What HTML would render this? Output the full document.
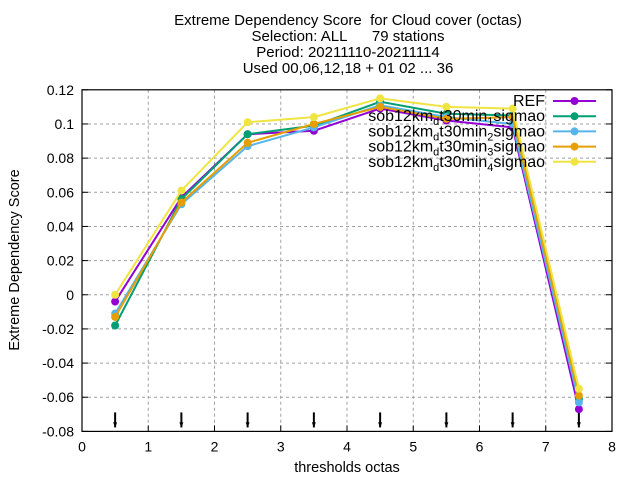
<!DOCTYPE html>
<html><head><meta charset="utf-8"><style>
body{margin:0;background:#fff}
svg text{font-family:"Liberation Sans",sans-serif;white-space:pre;}
</style></head><body>
<svg id="chart" width="640" height="480" xmlns="http://www.w3.org/2000/svg">
<g font-size="15" text-anchor="middle">
<text x="348" y="25" xml:space="preserve">Extreme Dependency Score  for Cloud cover (octas)</text>
<text x="348" y="41" xml:space="preserve">Selection: ALL      79 stations</text>
<text x="348" y="57">Period: 20211110-20211114</text>
<text x="348" y="73">Used 00,06,12,18 + 01 02 ... 36</text>
</g>
<g id="grid"></g>
<g id="axes"></g>
<g id="series"></g>
<g id="legend"></g>
<text x="347" y="472" font-size="14.5" text-anchor="middle">thresholds octas</text>
<text transform="translate(19,260) rotate(-90)" font-size="14.5" text-anchor="middle">Extreme Dependency Score</text>
</svg>
<script>
const xTicks=[0,1,2,3,4,5,6,7,8];
const yTicks=[-0.08,-0.06,-0.04,-0.02,0,0.02,0.04,0.06,0.08,0.1,0.12];
const yTickLabels=["-0.08","-0.06","-0.04","-0.02","0","0.02","0.04","0.06","0.08","0.1","0.12"];
const thresholds=[0.5,1.5,2.5,3.5,4.5,5.5,6.5,7.5];
const seriesNames=["REF","sob12km_d_t30min_1_sigmao","sob12km_d_t30min_2_sigmao","sob12km_d_t30min_3_sigmao","sob12km_d_t30min_4_sigmao"];
const refVals=[-0.004,0.057,0.094,0.096,0.109,0.102,0.098,-0.067];
const s1Vals=[-0.018,0.056,0.094,0.099,0.113,0.106,0.105,-0.061];
const s2Vals=[-0.011,0.053,0.087,0.098,0.111,0.104,0.100,-0.063];
const s3Vals=[-0.013,0.054,0.089,0.100,0.110,0.103,0.104,-0.059];
const s4Vals=[0.000,0.061,0.101,0.104,0.115,0.110,0.109,-0.055];
const colors=["#9400d3","#009e73","#56b4e9","#e69f00","#f0e442"];
const allVals=[refVals,s1Vals,s2Vals,s3Vals,s4Vals];
const L=82,R=612,T=89.8,B=431.4;
const xs=v=>L+(v-0)/(8-0)*(R-L);
const ys=v=>B-(v+0.08)/0.2*(B-T);
const NS="http://www.w3.org/2000/svg";
function mk(tag,attrs,parent){const e=document.createElementNS(NS,tag);for(const k in attrs)e.setAttribute(k,attrs[k]);parent.appendChild(e);return e;}
const grid=document.getElementById('grid'),axes=document.getElementById('axes'),series=document.getElementById('series'),legend=document.getElementById('legend');
xTicks.forEach((t,i)=>{
 if(i>0&&i<xTicks.length-1){const g=mk('line',{x1:xs(t),x2:xs(t),y1:T,y2:B,stroke:'#a0a0a0','stroke-dasharray':'3,3'},grid);
 
 }
 const tk=mk('line',{x1:xs(t),x2:xs(t),y1:B,y2:B-6,stroke:'#000'},axes);
 
 
 const tx=mk('text',{x:xs(t),y:B+20,'font-size':'14','text-anchor':'middle'},axes);tx.textContent=t;
 
 
});
yTicks.forEach((t,i)=>{
 if(i>0&&i<yTicks.length-1){const g=mk('line',{x1:L,x2:R,y1:ys(t),y2:ys(t),stroke:'#a0a0a0','stroke-dasharray':'3,3'},grid);
 
 }
 const tk=mk('line',{x1:L,x2:L+6,y1:ys(t),y2:ys(t),stroke:'#000'},axes);
 
 
 const tk2=mk('line',{x1:R,x2:R-6,y1:ys(t),y2:ys(t),stroke:'#000'},axes);
 
 
 const tx=mk('text',{x:L-8,y:ys(t)+5,'font-size':'14','text-anchor':'end'},axes);tx.textContent=yTickLabels[i];
 
 
});
const fr=mk('rect',{x:L,y:T,width:R-L,height:B-T,fill:'none',stroke:'#000','stroke-width':'1.2'},axes);


thresholds.forEach(t=>{
 const a=mk('line',{x1:xs(t),x2:xs(t),y1:B-19,y2:B-4,stroke:'#000','stroke-width':'2'},axes);
 
 
 const h=mk('path',{d:`M${xs(t)-2},${B-9} L${xs(t)+2},${B-9} L${xs(t)},${B-4}Z`,fill:'#000'},axes);
 
 
});
allVals.forEach((vals,si)=>{
 const g=mk('g',{},series);
 
 
 const pl=mk('polyline',{points:vals.map((v,i)=>xs(thresholds[i])+','+ys(v)).join(' '),fill:'none',stroke:colors[si],'stroke-width':'2'},g);
 
 
 vals.forEach((v,i)=>{const c=mk('circle',{cx:xs(thresholds[i]),cy:ys(v),r:4,fill:colors[si]},g);
  
  });
 const ly=101+si*15.2;
 const ll=mk('line',{x1:553,x2:596,y1:ly,y2:ly,stroke:colors[si],'stroke-width':'2'},legend);
 
 
 const lc=mk('circle',{cx:574.5,cy:ly,r:4,fill:colors[si]},legend);
 
 
 const tx=mk('text',{x:545,y:ly+5,'font-size':'16','text-anchor':'end'},legend);
 
 
 if(si===0){tx.textContent='REF';}
 else{tx.innerHTML='sob12km<tspan font-size="11" dy="4">d</tspan><tspan dy="-4">t30min</tspan><tspan font-size="11" dy="4">'+si+'</tspan><tspan dy="-4">sigmao</tspan>';}
});
</script>
</body></html>
